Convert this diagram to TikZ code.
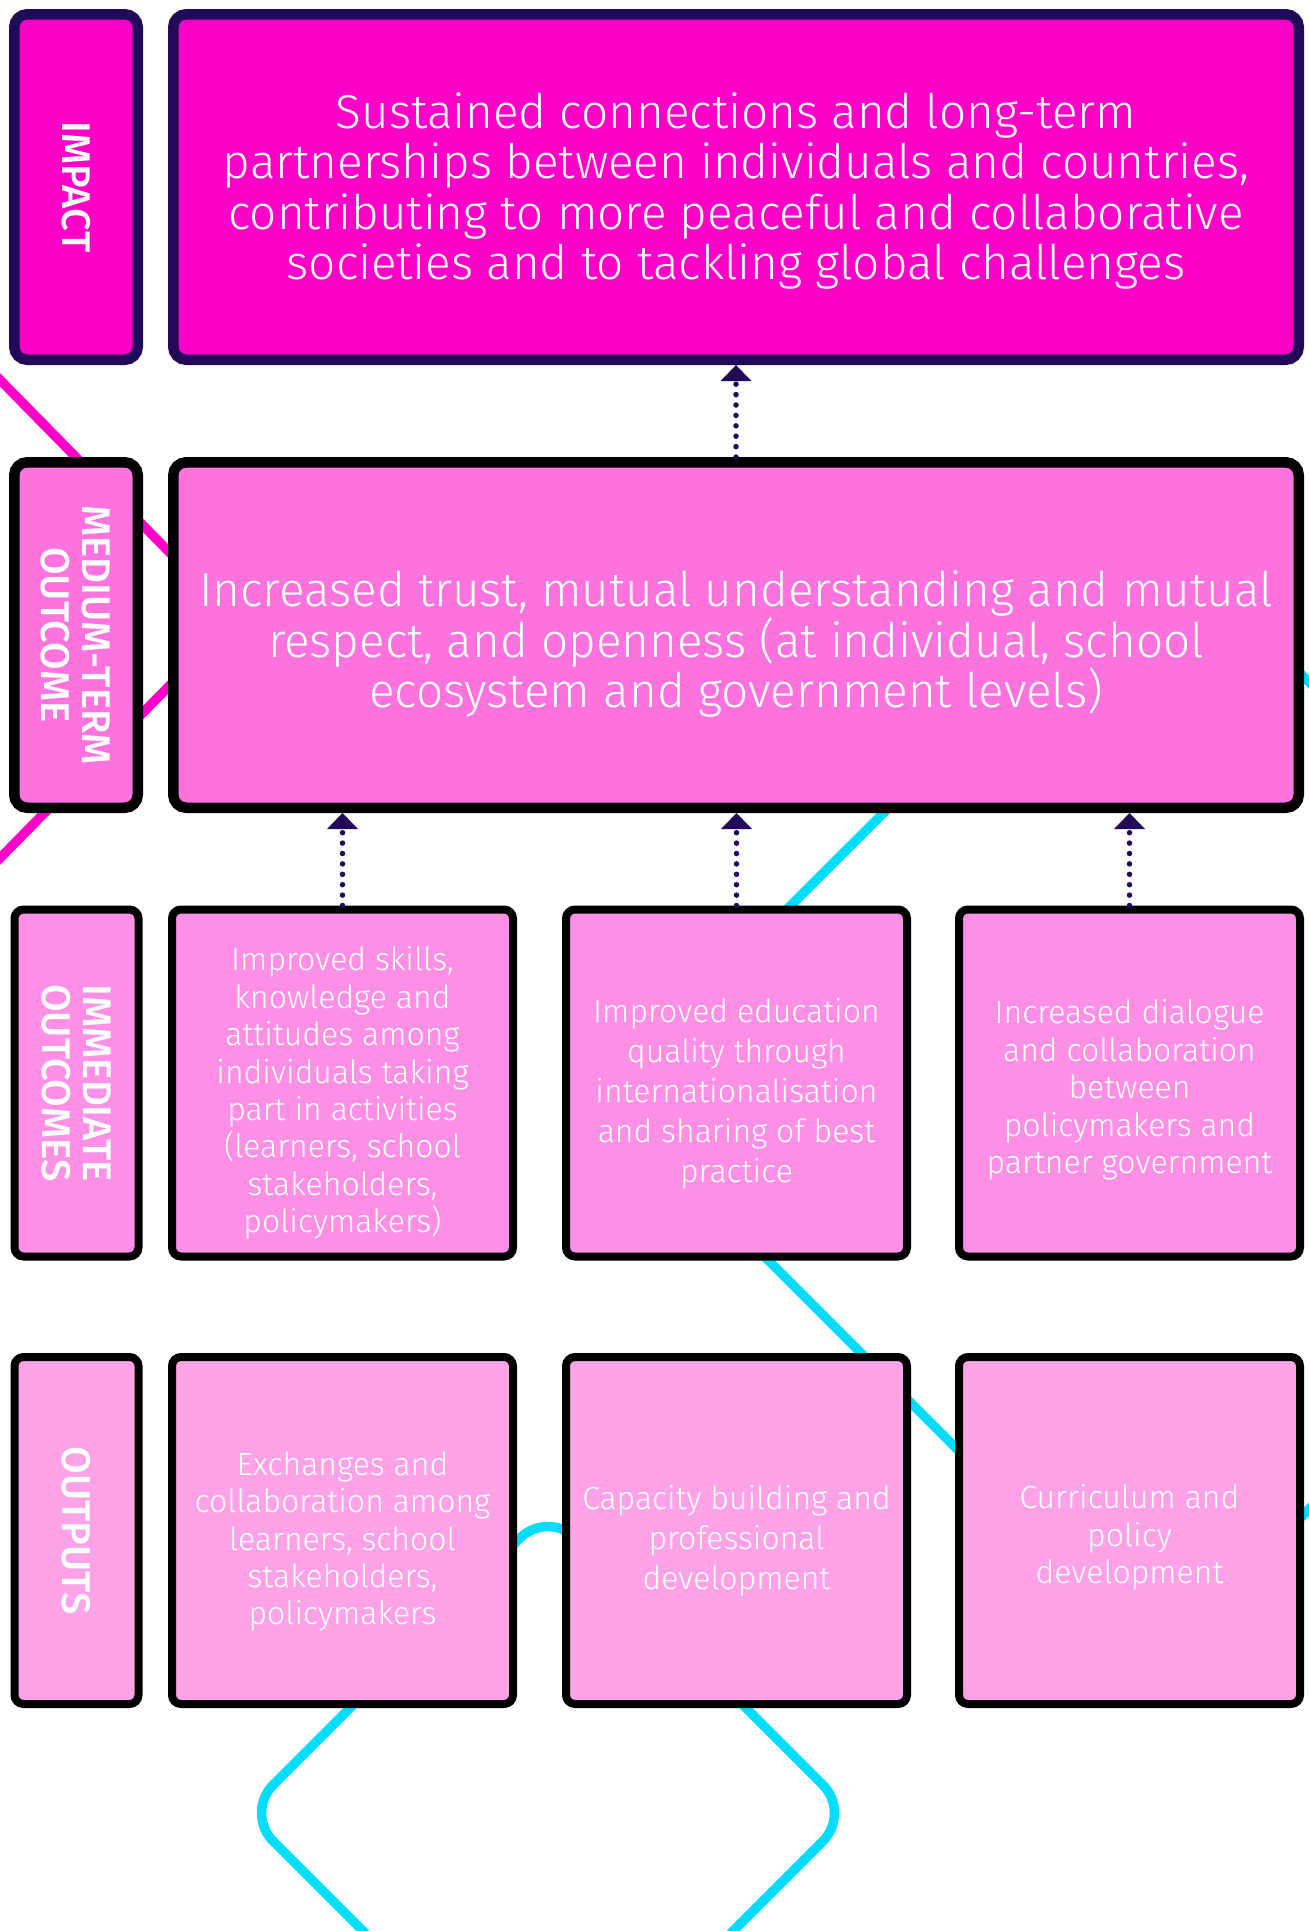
\documentclass[tikz,border=0pt]{standalone}
\usepackage{fontspec}
\usetikzlibrary{arrows.meta}
\IfFontExistsTF{Fira Sans Book}{\newfontfamily\bodyfont{Fira Sans Book}}{%
  \IfFontExistsTF{Fira Sans Light}{\newfontfamily\bodyfont{Fira Sans Light}}{\newfontfamily\bodyfont{Fira Sans}}}
\IfFontExistsTF{Fira Sans Medium}{\newfontfamily\labelfont{Fira Sans Medium}}{\newfontfamily\labelfont{Fira Sans}}
\definecolor{impfill}{HTML}{FF00C8}
\definecolor{medfill}{HTML}{FF73DF}
\definecolor{immfill}{HTML}{FF90E6}
\definecolor{outfill}{HTML}{FFA3E8}
\definecolor{darkpurple}{HTML}{230A59}
\definecolor{cyanline}{HTML}{00DDFF}
\definecolor{magline}{HTML}{FF00C8}
\tikzset{
  basebox/.style={draw, inner sep=0pt, align=center, text=white},
  toprow/.style={basebox, line width=10.5pt, rounded corners=13pt},
  lowrow/.style={basebox, line width=8pt, rounded corners=9pt},
  impbox/.style={toprow, fill=impfill, draw=darkpurple},
  medbox/.style={toprow, fill=medfill, draw=black},
  immbox/.style={lowrow, fill=immfill, draw=black},
  outbox/.style={lowrow, fill=outfill, draw=black},
  toplabel/.style={rotate=-90, minimum width=345.5pt, minimum height=123.5pt,
     font=\labelfont\fontsize{40}{41}\selectfont},
  lowlabel/.style={rotate=-90, minimum width=347pt, minimum height=124pt,
     font=\labelfont\fontsize{40}{41}\selectfont},
  bigmain/.style={minimum width=1125.5pt, minimum height=345.5pt},
  cell/.style={minimum width=341pt, minimum height=347pt},
  txt/.style={inner sep=0pt, align=center, text=white},
  bigtext/.style={txt, font=\bodyfont\fontsize{47.6}{50.5}\selectfont},
  celltext/.style={txt, font=\bodyfont\fontsize{32}{37.4}\selectfont},
  widetext/.style={txt, font=\bodyfont\fontsize{32}{40}\selectfont},
  dotarrow/.style={draw=darkpurple, line width=5.5pt, line cap=round,
     dash pattern=on 0pt off 10.4pt, -{Triangle[width=30pt,length=16pt]}},
  cyanpath/.style={draw=cyanline, line width=9.5pt, rounded corners=40pt},
  magpath/.style={draw=magline, line width=9.5pt, rounded corners=40pt}
}
\begin{document}
\begin{tikzpicture}[x=1pt,y=1pt]
\useasboundingbox (0,0) rectangle (1309,-1931);
\clip (0,0) rectangle (1309,-1931);
\fill[white] (0,0) rectangle (1309,-1931);
% background lines
\draw[magpath] (-50,-329) -- (235,-619) -- (-50,-909);
\draw[cyanpath] (1362,-735) -- (1162,-535) -- (602,-1094) -- (1163,-1655) -- (1363,-1455);
\draw[cyanpath] (395,-1963) -- (245,-1813) -- (548,-1510) -- (851,-1813) -- (701,-1963);
% row 1
\node[impbox, toplabel] (implabel) at (76,-187) {IMPACT};
\node[impbox, bigmain] (imp) at (736,-187) {};
\path (imp.center) ++(0,-4) node[bigtext] (imptext) {Sustained connections and long-term\\partnerships between individuals and countries,\\contributing to more peaceful and collaborative\\societies and to tackling global challenges};
% row 2
\node[medbox, toplabel] (medlabel) at (76,-635) {MEDIUM-TERM\\OUTCOME};
\node[medbox, bigmain] (med) at (736,-635) {};
\path (med.center) ++(0,-9) node[bigtext] (medtext) {Increased trust, mutual understanding and mutual\\respect, and openness (at individual, school\\ecosystem and government levels)};
% row 3
\node[immbox, lowlabel] (immlabel) at (76.5,-1083) {IMMEDIATE\\OUTCOMES};
\node[immbox, cell] (imm1) at (342.5,-1083) {};
\node[immbox, cell] (imm2) at (736.5,-1083) {};
\node[immbox, cell] (imm3) at (1129.5,-1083) {};
\path (imm1.center) ++(0,-10) node[celltext] (imm1text) {Improved skills,\\knowledge and\\attitudes among\\individuals taking\\part in activities\\(learners, school\\stakeholders,\\policymakers)};
\path (imm2.center) ++(0,-11) node[widetext] (imm2text) {Improved education\\quality through\\internationalisation\\and sharing of best\\practice};
\path (imm3.center) ++(0,-7) node[celltext] (imm3text) {Increased dialogue\\and collaboration\\between\\policymakers and\\partner government};
% row 4
\node[outbox, lowlabel] (outlabel) at (76.5,-1530.5) {OUTPUTS};
\node[outbox, cell] (out1) at (342.5,-1530.5) {};
\node[outbox, cell] (out2) at (736.5,-1530.5) {};
\node[outbox, cell] (out3) at (1129.5,-1530.5) {};
\path (out1.center) ++(0,-11) node[celltext] (out1text) {Exchanges and\\collaboration among\\learners, school\\stakeholders,\\policymakers};
\path (out2.center) ++(0,-10) node[widetext] (out2text) {Capacity building and\\professional\\development};
\path (out3.center) ++(0,-7) node[celltext] (out3text) {Curriculum and\\policy\\development};
% arrows
\draw[dotarrow] (med.north) -- (imp.south);
\draw[dotarrow] (imm1.north) -- (imm1.north |- med.south);
\draw[dotarrow] (imm2.north) -- (imm2.north |- med.south);
\draw[dotarrow] (imm3.north) -- (imm3.north |- med.south);
\end{tikzpicture}
\end{document}
